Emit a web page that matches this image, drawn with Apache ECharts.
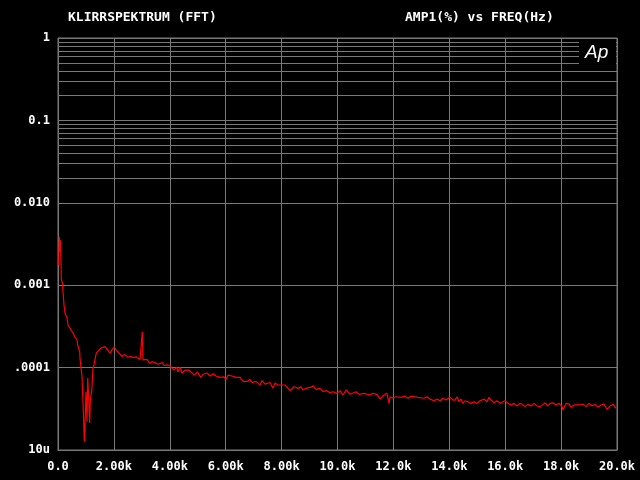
<!DOCTYPE html>
<html>
<head>
<meta charset="utf-8">
<script src="https://cdn.jsdelivr.net/npm/echarts@6/dist/echarts.min.js"></script>
<style>
  html, body { margin: 0; padding: 0; background: #000; }
  #container { width: 640px; height: 480px; }
</style>
</head>
<body>
<div id="container"></div>
<script>
// frequency (Hz) and amplitude (%)
var freqs = [
  25, 46, 72, 82, 107, 118, 161, 179, 215, 250, 322, 358, 465, 537, 608, 680, 705, 776, 787, 823,
  859, 884, 920, 941, 966, 1002, 1038, 1063, 1098, 1134, 1156, 1206, 1227, 1252, 1288, 1335, 1370,
  1431, 1538, 1682, 1753, 1861, 1932, 2014, 2075, 2147, 2218, 2290, 2361, 2433, 2505, 2612, 2719,
  2791, 2862, 2934, 2995, 3016, 3041, 3184, 3245, 3281, 3363, 3471, 3578, 3732, 3793, 3900, 4007,
  4043, 4150, 4247, 4294, 4365, 4437, 4544, 4687, 4795, 4866, 4938, 4984, 5106, 5188, 5331, 5439,
  5546, 5653, 5796, 5940, 6011, 6083, 6226, 6369, 6512, 6619, 6762, 6870, 6941, 7084, 7228, 7299,
  7406, 7585, 7693, 7764, 7872, 7943, 8122, 8229, 8301, 8444, 8587, 8695, 8766, 8874, 8945, 9052,
  9135, 9231, 9374, 9482, 9625, 9732, 9840, 9983, 10090, 10197, 10305, 10448, 10519, 10662, 10770,
  10949, 11020, 11163, 11271, 11414, 11521, 11664, 11772, 11843, 11879, 11986, 12094, 12165, 12273,
  12416, 12523, 12630, 12666, 12773, 12881, 12952, 13095, 13203, 13310, 13453, 13561, 13668, 13776,
  13883, 14026, 14133, 14205, 14276, 14348, 14419, 14491, 14563, 14670, 14777, 14885, 14992, 15099,
  15242, 15350, 15421, 15493, 15600, 15707, 15815, 15922, 15994, 16101, 16209, 16316, 16423, 16530,
  16602, 16709, 16817, 16924, 17031, 17139, 17246, 17353, 17425, 17532, 17604, 17711, 17818, 17926,
  18033, 18069, 18176, 18284, 18355, 18462, 18570, 18677, 18785, 18892, 18999, 19107, 19214, 19321,
  19429, 19536, 19643, 19751, 19858, 19965
];
var amps = [
  0.00176, 0.00388, 0.00255, 0.00354, 0.00193, 0.00116, 0.00106, 0.000834, 0.000575, 0.00046,
  0.0004, 0.000329, 0.000286, 0.000263, 0.000235, 0.000216, 0.000188, 0.000156, 0.000131, 0.000099,
  7.76e-5, 4.65e-5, 2.2e-5, 1.26e-5, 2.0e-5, 5.1e-5, 2.2e-5, 7.5e-5, 4.3e-5, 2.13e-5, 4.05e-5,
  5.1e-5, 6.75e-5, 9.9e-5, 1.08e-4, 1.31e-4, 1.5e-4,
  1.56e-4, 1.73e-4, 1.8e-4, 1.68e-4, 1.5e-4, 1.64e-4, 1.78e-4, 1.64e-4, 1.56e-4, 1.52e-4, 1.36e-4,
  1.44e-4, 1.40e-4, 1.34e-4, 1.36e-4, 1.32e-4,
  1.35e-4, 1.3e-4, 1.25e-4, 2.2e-4, 2.73e-4, 1.24e-4, 1.26e-4, 1.21e-4, 1.13e-4, 1.18e-4, 1.15e-4,
  1.10e-4, 1.15e-4, 1.06e-4, 1.08e-4, 1.06e-4,
  1.03e-4, 9.3e-5, 1.01e-4, 8.9e-5, 1.01e-4, 8.6e-5, 9.3e-5, 9.3e-5, 8.6e-5, 8.1e-5, 8.4e-5, 8.9e-5,
  7.6e-5, 8.3e-5, 8.6e-5, 7.9e-5,
  8.4e-5, 7.9e-5, 7.6e-5, 7.7e-5, 7.2e-5, 8.1e-5, 7.9e-5, 7.6e-5, 7.6e-5, 6.8e-5, 6.8e-5, 7.2e-5,
  6.6e-5, 6.8e-5, 6.15e-5, 6.95e-5,
  6.3e-5, 6.6e-5, 5.6e-5, 6.5e-5, 6.15e-5, 5.85e-5, 6.15e-5, 5.6e-5, 5.25e-5, 5.85e-5, 5.6e-5,
  5.85e-5, 5.35e-5, 5.6e-5, 5.35e-5, 5.8e-5,
  6.0e-5, 5.45e-5, 5.6e-5, 5.1e-5, 5.25e-5, 4.96e-5, 5.1e-5, 4.87e-5, 5.25e-5, 4.65e-5, 5.35e-5,
  4.74e-5, 4.96e-5, 5.1e-5, 4.74e-5,
  4.87e-5, 4.96e-5, 4.65e-5, 4.87e-5, 4.74e-5, 4.15e-5, 4.65e-5, 4.87e-5, 3.68e-5, 4.43e-5, 4.28e-5,
  4.43e-5, 4.65e-5, 4.36e-5,
  4.5e-5, 4.25e-5, 4.5e-5, 4.74e-5, 4.43e-5, 4.36e-5, 4.15e-5, 4.25e-5, 4.43e-5, 4.15e-5, 3.96e-5,
  4.15e-5, 3.96e-5, 4.25e-5,
  4.04e-5, 4.36e-5, 4.04e-5, 4.04e-5, 4.43e-5, 3.85e-5, 4.15e-5, 3.68e-5, 3.96e-5, 3.85e-5, 3.68e-5,
  3.85e-5, 3.68e-5, 3.96e-5,
  4.15e-5, 3.85e-5, 4.36e-5, 4.04e-5, 3.74e-5, 3.96e-5, 3.68e-5, 3.85e-5, 3.96e-5, 3.68e-5, 3.52e-5,
  3.68e-5, 3.42e-5, 3.68e-5,
  3.6e-5, 3.36e-5, 3.58e-5, 3.42e-5, 3.68e-5, 3.42e-5, 3.36e-5, 3.58e-5, 3.74e-5, 3.42e-5, 3.68e-5,
  3.74e-5, 3.52e-5, 3.68e-5,
  3.36e-5, 3.06e-5, 3.68e-5, 3.6e-5, 3.3e-5, 3.52e-5, 3.52e-5, 3.52e-5, 3.6e-5, 3.36e-5, 3.68e-5,
  3.42e-5, 3.6e-5, 3.3e-5,
  3.52e-5, 3.6e-5, 3.12e-5, 3.42e-5, 3.6e-5, 3.2e-5
];
var yTickLabels = { '0': '1', '-1': '0.1', '-2': '0.010', '-3': '0.001', '-4': '.0001', '-5': '10u' };
var minorSteps = [2, 3, 4, 5, 6, 7, 8, 9];

var gridColor = '#787878';
var monoFont = 'DejaVu Sans Mono';

var dom = document.getElementById('container');
var chart = echarts.init(dom);

var seriesData = [];
for (var i = 0; i < freqs.length; i++) {
    seriesData.push([freqs[i], amps[i]]);
}

// log grid lines between the decades
var minorLines = [];
for (var d = -5; d < 0; d++) {
    for (var k = 0; k < minorSteps.length; k++) {
        minorLines.push({ yAxis: minorSteps[k] * Math.pow(10, d) });
    }
}

chart.setOption({
    backgroundColor: '#000',
    animation: false,
    grid: { left: 58, top: 38, right: 23, bottom: 30, show: true, borderColor: gridColor, borderWidth: 1 },
    title: {
        text: 'KLIRRSPEKTRUM (FFT)',
        left: 68, top: 11, padding: 0,
        textStyle: { color: '#fff', fontFamily: monoFont, fontWeight: 'bold', fontSize: 13 }
    },
    graphic: [
        {
            type: 'text', left: 405, top: 11,
            style: { text: 'AMP1(%) vs FREQ(Hz)', fill: '#fff', font: 'bold 13px "DejaVu Sans Mono"' }
        },
        {
            type: 'rect', z: 100,
            shape: { x: 579, y: 39, width: 37, height: 28 },
            style: { fill: '#000' }
        },
        {
            type: 'text', z: 101, left: 585, top: 43,
            style: { text: 'Ap', fill: '#fff', font: 'italic 300 19px "Liberation Sans"' }
        }
    ],
    xAxis: {
        type: 'value',
        min: 0, max: 20000, interval: 2000,
        axisLine: { lineStyle: { color: gridColor } },
        axisTick: { show: false },
        splitLine: { show: true, lineStyle: { color: gridColor, width: 1 } },
        axisLabel: {
            color: '#fff', fontFamily: monoFont, fontWeight: 'bold', fontSize: 12, margin: 11,
            formatter: function (v) {
                if (v === 0) return '0.0';
                if (v < 10000) return (v / 1000).toFixed(2) + 'k';
                return (v / 1000).toFixed(1) + 'k';
            }
        }
    },
    yAxis: {
        type: 'log', logBase: 10,
        min: 1e-5, max: 1,
        axisLine: { lineStyle: { color: gridColor } },
        axisTick: { show: false },
        splitLine: { show: true, lineStyle: { color: gridColor, width: 1 } },
        axisLabel: {
            color: '#fff', fontFamily: monoFont, fontWeight: 'bold', fontSize: 12, margin: 8,
            formatter: function (v) {
                var e = Math.round(Math.log10(v));
                return yTickLabels[String(e)] || '';
            }
        }
    },
    series: [{
        type: 'line',
        data: seriesData,
        showSymbol: false,
        lineStyle: { color: '#ff0000', width: 1.2 },
        itemStyle: { color: '#ff0000' },
        z: 5,
        markLine: {
            silent: true,
            symbol: 'none',
            label: { show: false },
            lineStyle: { color: gridColor, type: 'solid', width: 1 },
            z: 1,
            data: minorLines
        }
    }]
});
</script>
</body>
</html>
